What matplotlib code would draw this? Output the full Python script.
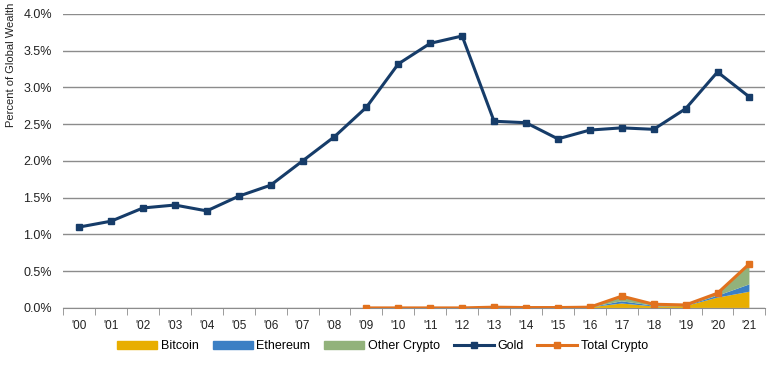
import matplotlib
matplotlib.use("Agg")
import matplotlib.pyplot as plt
import numpy as np
from matplotlib.patches import Patch
from matplotlib.lines import Line2D

plt.rcParams['font.family'] = ['Liberation Sans', 'DejaVu Sans']

years = ["'00", "'01", "'02", "'03", "'04", "'05", "'06", "'07", "'08", "'09", "'10",
         "'11", "'12", "'13", "'14", "'15", "'16", "'17", "'18", "'19", "'20", "'21"]
gold = [1.10, 1.18, 1.36, 1.40, 1.32, 1.52, 1.67, 2.00, 2.33, 2.73, 3.32,
        3.60, 3.70, 2.54, 2.52, 2.30, 2.42, 2.45, 2.43, 2.71, 3.21, 2.87]
crypto_years = ["'09", "'10", "'11", "'12", "'13", "'14", "'15", "'16", "'17", "'18", "'19", "'20", "'21"]
bitcoin = [0.0, 0.0, 0.0, 0.0, 0.008, 0.004, 0.004, 0.008, 0.06, 0.02, 0.025, 0.14, 0.22]
ethereum = [0.0, 0.0, 0.0, 0.0, 0.0, 0.0, 0.0, 0.0, 0.03, 0.01, 0.005, 0.025, 0.10]
other = [0.0, 0.0, 0.0, 0.0, 0.002, 0.001, 0.001, 0.002, 0.07, 0.02, 0.01, 0.035, 0.28]
total = [0.0, 0.0, 0.0, 0.0, 0.01, 0.005, 0.005, 0.01, 0.16, 0.05, 0.04, 0.20, 0.60]

c_btc = '#E8AE00'
c_eth = '#3B7FC4'
c_oth = '#92B27B'
c_gold = '#163C69'
c_tot = '#E1711E'

fig = plt.figure(figsize=(7.7, 3.67), dpi=100)
ax = fig.add_axes([0.082, 0.161, 0.912, 0.801])

x = np.arange(len(years))
xc = np.array([years.index(y) for y in crypto_years])

ax.stackplot(xc, bitcoin, ethereum, other, colors=[c_btc, c_eth, c_oth], linewidth=0)
ax.plot(x, gold, color=c_gold, lw=2.2, marker='s', ms=5, zorder=4)
ax.plot(xc, total, color=c_tot, lw=2.2, marker='s', ms=5, zorder=5)

ax.set_ylim(0, 4.0)
ax.set_xlim(-0.5, len(years) - 0.5)
ax.set_yticks(np.arange(0, 4.01, 0.5))
ax.set_yticklabels([f"{v:.1f}%" for v in np.arange(0, 4.01, 0.5)], fontsize=9, color='#222222')
ax.yaxis.grid(True, color='#8c8c8c', lw=1)
ax.set_axisbelow(True)
ax.tick_params(axis='y', length=0, pad=8)

ax.set_xticks(x)
ax.set_xticklabels(years, fontsize=8.5, color='#222222')
ax.set_xticks(np.arange(-0.5, len(years)), minor=True)
ax.tick_params(axis='x', which='major', length=0, pad=8.5)
ax.tick_params(axis='x', which='minor', length=5, color='#8c8c8c', direction='out')

for s in ['top', 'right', 'left']:
    ax.spines[s].set_visible(False)
ax.spines['bottom'].set_color('#8c8c8c')

fig.text(11 / 770, 1 - 65 / 367, 'Percent of Global Wealth', rotation=90, fontsize=8,
         color='#222222', ha='center', va='center')

handles = [Patch(color=c_btc), Patch(color=c_eth), Patch(color=c_oth),
           Line2D([], [], color=c_gold, lw=2.2, marker='s', ms=5),
           Line2D([], [], color=c_tot, lw=2.2, marker='s', ms=5)]
labels = ['Bitcoin', 'Ethereum', 'Other Crypto', 'Gold', 'Total Crypto']
fig.legend(handles, labels, loc='center', bbox_to_anchor=(0.497, 0.056), ncol=5, frameon=False,
           fontsize=9, handlelength=3.2, handleheight=0.5, columnspacing=1.1, handletextpad=0.3)

fig.savefig('out.png', dpi=100)
